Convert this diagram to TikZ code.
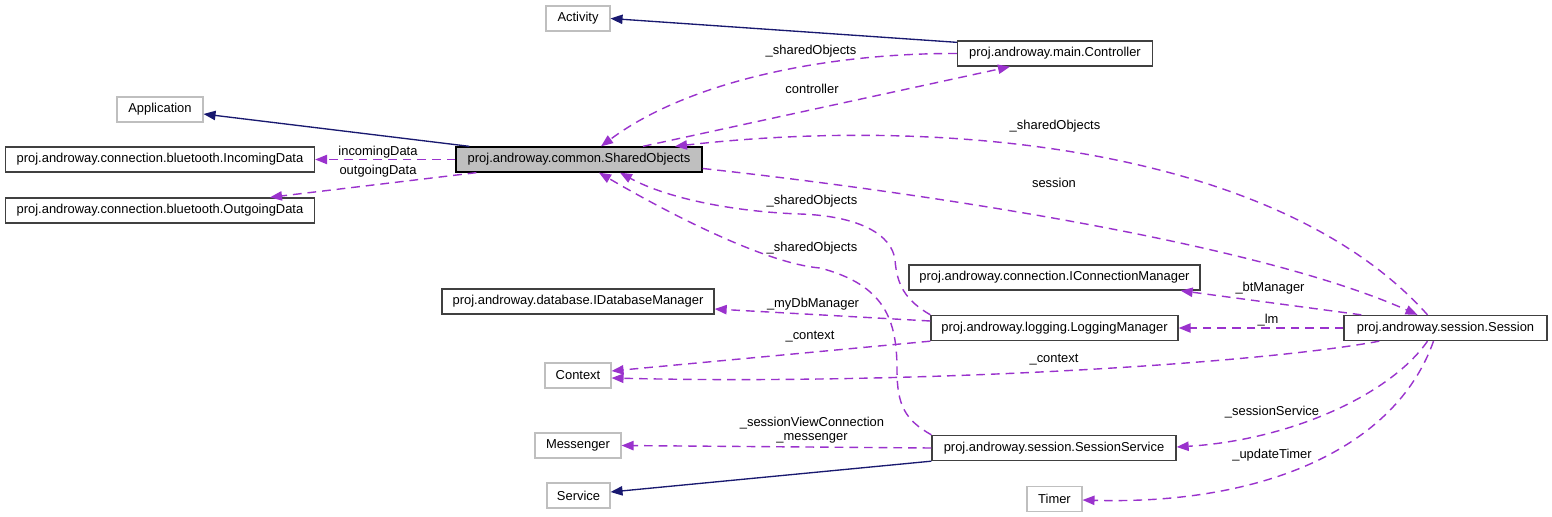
\documentclass[tikz,border=0pt]{standalone}
\usepackage{fontspec}
\setmainfont{Liberation Sans}
\usetikzlibrary{arrows.meta,calc}
\definecolor{edgepurple}{HTML}{9A32CD}
\definecolor{edgenavy}{HTML}{191970}
\definecolor{extgray}{HTML}{BFBFBF}
\definecolor{boxline}{HTML}{404040}
\begin{document}
\begin{tikzpicture}[x=0.75pt,y=-0.75pt,
  every node/.style={font=\fontsize{9.7pt}{10.5pt}\selectfont, text=black},
  cls/.style={draw=boxline, line width=1pt, fill=white, minimum height=18.75pt, inner sep=0pt},
  ext/.style={draw=extgray, line width=0.8pt, fill=white, minimum height=18.75pt, inner sep=0pt},
  cur/.style={draw=black, line width=1pt, fill=extgray, minimum height=18.75pt, inner sep=0pt},
  uses/.style={draw=edgepurple, line width=1.05pt, dash pattern=on 6.5pt off 4.5pt, -{Triangle[length=9pt,width=7pt]}},
  inherit/.style={draw=edgenavy, line width=1pt, -{Triangle[length=9pt,width=7pt]}},
  lbl/.style={inner sep=0pt, align=center}
]
\useasboundingbox (0,0) rectangle (1552,517);
\fill[white] (0,0) rectangle (1552,517);

% nodes
\node[ext] (activity) at (578,18.5) [minimum width=48pt] {Activity};
\node[cls] (ctrl) at (1055,53.5) [minimum width=146.25pt] {proj.androway.main.Controller};
\node[ext] (app) at (160,109.5) [minimum width=64.5pt] {Application};
\node[cur] (shared) at (579,159.5) [minimum width=184.5pt] {proj.androway.common.SharedObjects};
\node[cls] (incoming) at (160,159.5) [minimum width=231.75pt] {proj.androway.connection.bluetooth.IncomingData};
\node[cls] (outgoing) at (160,210.5) [minimum width=231.75pt] {proj.androway.connection.bluetooth.OutgoingData};
\node[cls] (iconn) at (1054.5,277.5) [minimum width=218.25pt] {proj.androway.connection.IConnectionManager};
\node[cls] (idb) at (578,301.5) [minimum width=204pt] {proj.androway.database.IDatabaseManager};
\node[cls] (logmgr) at (1054.5,328) [minimum width=185.25pt] {proj.androway.logging.LoggingManager};
\node[cls] (session) at (1445.5,328) [minimum width=152.25pt] {proj.androway.session.Session};
\node[ext] (context) at (578,375.5) [minimum width=49.5pt] {Context};
\node[ext] (messenger) at (578,445.5) [minimum width=64.5pt] {Messenger};
\node[cls] (ssvc) at (1054,448) [minimum width=183pt] {proj.androway.session.SessionService};
\node[ext] (service) at (578.5,495.5) [minimum width=47.25pt] {Service};
\node[ext] (timer) at (1054.5,499) [minimum width=41.25pt] {Timer};

% inheritance
\draw[inherit] ($(ctrl.north west)+(0,2)$) -- (activity.east);
\draw[inherit] ($(shared.north west)+(14,0)$) -- ($(app.east)+(0,4.5)$);
\draw[inherit] (ssvc.south west) -- ($(service.east)+(0,-3.5)$);

% usage
\draw[uses] (ctrl.west) .. controls (830,53) and (690,80) .. ($(shared.north)+(22,0)$);
\draw[uses] ($(shared.north)+(64,0)$) -- ($(ctrl.south)+(-45,0)$);
\draw[uses] ($(session.north)+(-18,0)$) .. controls (1280,150) and (950,115) .. ($(shared.north)+(96,0)$);
\draw[uses] ($(shared.east)+(0,9)$) .. controls (900,190) and (1250,240) .. ($(session.north)+(-28,0)$);
\draw[uses] (shared.west) -- (incoming.east);
\draw[uses] ($(shared.south west)+(21,0)$) -- ($(outgoing.north)+(110,0)$);
\draw[uses] (logmgr.north west) .. controls (905,300) and (897,285) .. (895,260)
  .. controls (892,235) and (860,216) .. (800,214)
  .. controls (740,212) and (670,200) .. ($(shared.south)+(41,0)$);
\draw[uses] (ssvc.north west) .. controls (905,420) and (897,405) .. (897,370)
  .. controls (897,320) and (885,285) .. (820,268)
  .. controls (770,264) and (680,220) .. ($(shared.south)+(20,0)$);
\draw[uses] ($(logmgr.west)+(0,-7)$) -- ($(idb.east)+(0,7.5)$);
\draw[uses] (logmgr.south west) -- ($(context.east)+(0,-4.5)$);
\draw[uses] ($(session.south west)+(36,0)$) .. controls (1250,365) and (900,385) .. ($(context.east)+(0,2.5)$);
\draw[uses] ($(session.north west)+(18,0)$) -- ($(iconn.south east)+(-20,0)$);
\draw[uses] (session.west) -- (logmgr.east);
\draw[uses] ($(session.south)+(-18,0)$) .. controls (1390,395) and (1290,440) .. ($(ssvc.east)+(0,-1)$);
\draw[uses] ($(session.south)+(-12,0)$) .. controls (1395,450) and (1260,505) .. ($(timer.east)+(0,1)$);
\draw[uses] (ssvc.west) -- (messenger.east);

% labels
\node[lbl] (l1) at (811,51) {\_sharedObjects};
\node[lbl] (l2) at (812,89) {controller};
\node[lbl] (l3) at (1055,126) {\_sharedObjects};
\node[lbl] (l4) at (1054,183) {session};
\node[lbl] (l5) at (378,152) {incomingData};
\node[lbl] (l6) at (378,171) {outgoingData};
\node[lbl] (l7) at (812,201) {\_sharedObjects};
\node[lbl] (l8) at (812,248) {\_sharedObjects};
\node[lbl] (l9) at (813,304) {\_myDbManager};
\node[lbl] (l10) at (810,337) {\_context};
\node[lbl] (l11) at (1270,288) {\_btManager};
\node[lbl] (l12) at (1268,320) {\_lm};
\node[lbl] (l13) at (1054,360) {\_context};
\node[lbl] (l14) at (812,430) {\_sessionViewConnection\\\_messenger};
\node[lbl] (l15) at (1272,412) {\_sessionService};
\node[lbl] (l16) at (1272,455) {\_updateTimer};
\end{tikzpicture}
\end{document}
